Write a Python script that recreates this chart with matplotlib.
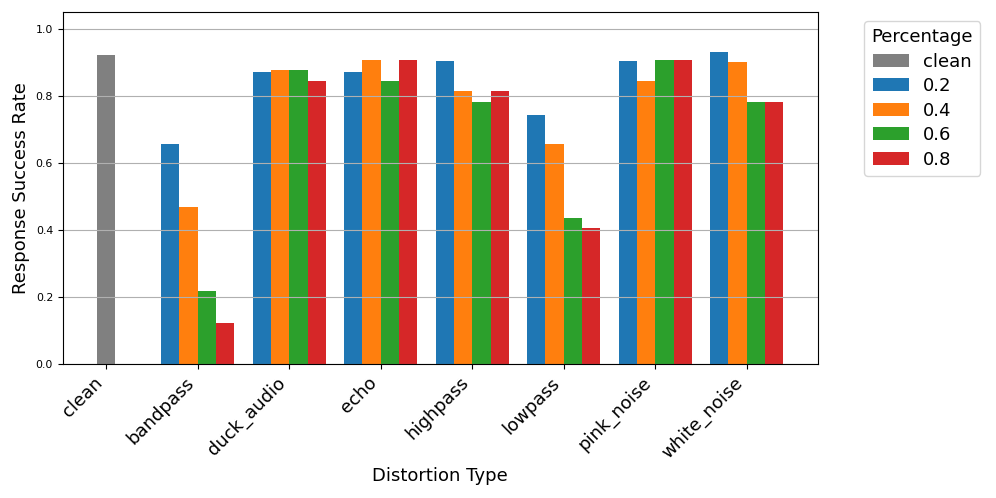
import matplotlib.pyplot as plt
import numpy as np

# Daten
distortions = ["bandpass", "duck_audio", "echo", "highpass", "lowpass", "pink_noise", "white_noise"]
percentages = ["0.2", "0.4", "0.6", "0.8"]
clean_rate = 0.922

rate_02 = [0.657, 0.872, 0.872, 0.904, 0.742, 0.904, 0.932]
rate_04 = [0.469, 0.876, 0.907, 0.813, 0.657, 0.845, 0.901]
rate_06 = [0.217, 0.876, 0.845, 0.782, 0.437, 0.907, 0.782]
rate_08 = [0.123, 0.845, 0.907, 0.813, 0.406, 0.907, 0.782]
rates = [rate_02, rate_04, rate_06, rate_08]
colors = ["#1f77b4", "#ff7f0e", "#2ca02c", "#d62728"]

fig, ax = plt.subplots(figsize=(10, 5), dpi=99.6)

width = 0.2
ax.bar(0, clean_rate, width, color="gray", label="clean")
x = np.arange(1, len(distortions) + 1)
for i, p in enumerate(percentages):
    ax.bar(x + (i - 1.5) * width, rates[i], width, color=colors[i], label=p)

ax.set_xticks(np.arange(len(distortions) + 1))
ax.set_xticklabels(["clean"] + distortions, rotation=45, ha="right", fontsize=13)
ax.tick_params(axis="y", labelsize=8)
ax.set_ylim(0, 1.05)
ax.set_xlabel("Distortion Type", fontsize=13)
ax.set_ylabel("Response Success Rate", fontsize=13)
ax.yaxis.grid(True)

ax.legend(title="Percentage", bbox_to_anchor=(1.05, 1), loc="upper left",
          fontsize=13, title_fontsize=13, labelspacing=0.36)

plt.subplots_adjust(left=0.063, right=0.821, top=0.976, bottom=0.269)
plt.savefig("out.png")
